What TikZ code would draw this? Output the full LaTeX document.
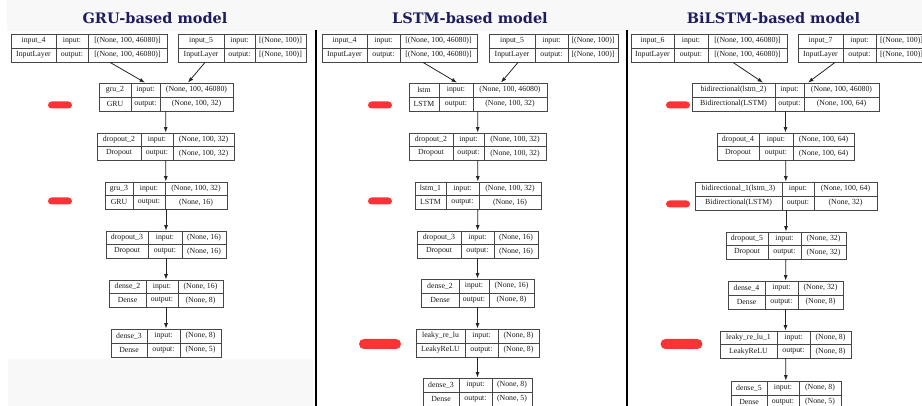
\documentclass[tikz,border=0pt]{standalone}
\usepackage{fontspec}
\setmainfont{Liberation Serif}
\newfontfamily\titlefont{DejaVu Serif}
\usetikzlibrary{arrows.meta}
\definecolor{titleblue}{RGB}{28,28,96}
\definecolor{markred}{RGB}{250,52,52}
\definecolor{stripgray}{RGB}{248,248,248}
\definecolor{boxline}{RGB}{70,70,70}
\def\getx#1,#2,#3,#4\relax{\def\xA{#1}\def\xB{#2}\def\xC{#3}\def\xD{#4}}
\def\gety#1,#2\relax{\def\yA{#1}\def\yB{#2}}
% \layer{name}{x1,xa,xb,x2}{y1,y2}{top-left}{bottom-left}{top-right}{bottom-right}
\newcommand\layer[7]{%
  \getx#2\relax\gety#3\relax
  \pgfmathsetmacro\lw{\xD-\xA}\pgfmathsetmacro\lh{\yB-\yA}%
  \node[layerbox, minimum width=\lw pt, minimum height=\lh pt] (#1) at ({(\xA+\xD)/2},{(\yA+\yB)/2}) {};
  \draw[cellline] (\xB,\yA) -- (\xB,\yB) (\xC,\yA) -- (\xC,\yB) (\xA,{(\yA+\yB)/2}) -- (\xD,{(\yA+\yB)/2});
  \node[celltext] (#1-tl) at ({(\xA+\xB)/2},{(3*\yA+\yB)/4}) {#4};
  \node[celltext] (#1-bl) at ({(\xA+\xB)/2},{(\yA+3*\yB)/4}) {#5};
  \node[celltext] (#1-tm) at ({(\xB+\xC)/2},{(3*\yA+\yB)/4}) {input:};
  \node[celltext] (#1-bm) at ({(\xB+\xC)/2},{(\yA+3*\yB)/4}) {output:};
  \node[celltext] (#1-tr) at ({(\xC+\xD)/2},{(3*\yA+\yB)/4}) {#6};
  \node[celltext] (#1-br) at ({(\xC+\xD)/2},{(\yA+3*\yB)/4}) {#7};
}
\begin{document}
\begin{tikzpicture}[x=1pt,y=-1pt,
  layerbox/.style={draw=boxline, line width=0.8pt, inner sep=0pt, fill=white},
  cellline/.style={draw=boxline, line width=0.8pt},
  celltext/.style={inner sep=0pt, font=\fontsize{7.8}{9}\selectfont, text=black!90},
  arr/.style={draw=black!85, line width=0.8pt, -{Latex[length=5.5pt,width=4pt]}},
  marker/.style={fill=markred, draw=none, rounded corners=3.5pt, inner sep=0pt},
  bigmarker/.style={fill=markred, draw=none, rounded corners=5pt, inner sep=0pt},
  title/.style={anchor=base, text=titleblue, font=\titlefont\bfseries\fontsize{14.5}{16}\selectfont},
  sep/.style={draw=black, line width=2pt}]
\useasboundingbox (0,0) rectangle (922,406);
\clip (0,0) rectangle (922,406);
\fill[white] (0,0) rectangle (922,406);
% background strips
\fill[stripgray] (7,0) rectangle (922,31);
\fill[stripgray] (8,359) rectangle (313,406);
% separators
\draw[sep] (315.5,30) -- (315.5,406);
\draw[sep] (627,30) -- (627,406);
% titles
\node[title] (t1) at (155,24) {GRU-based model};
\node[title] (t2) at (470,24) {LSTM-based model};
\node[title] (t3) at (773.5,24) {BiLSTM-based model};

% ---------------- GRU ----------------
\layer{in4}{11,56,88,167}{34,62}{input\_4}{InputLayer}{[(None, 100, 46080)]}{[(None, 100, 46080)]}
\layer{in5}{178,224,255,306}{34,62}{input\_5}{InputLayer}{[(None, 100)]}{[(None, 100)]}
\layer{gru2}{99,131,160,233}{83,111}{gru\_2}{GRU}{(None, 100, 46080)}{(None, 100, 32)}
\layer{drop2}{97,141,173,234}{133,160}{dropout\_2}{Dropout}{(None, 100, 32)}{(None, 100, 32)}
\layer{gru3}{105,133,165,227}{182,209}{gru\_3}{GRU}{(None, 100, 32)}{(None, 16)}
\layer{drop3}{106,148,182,226}{231,258}{dropout\_3}{Dropout}{(None, 16)}{(None, 16)}
\layer{dense2}{109,146,178,223}{280,307}{dense\_2}{Dense}{(None, 16)}{(None, 8)}
\layer{dense3}{111,147,180,221}{329,357}{dense\_3}{Dense}{(None, 8)}{(None, 5)}
\draw[arr] ([xshift=21pt]in4.south) -- ([xshift=-21pt]gru2.north);
\draw[arr] ([xshift=-37pt]in5.south) -- ([xshift=22pt]gru2.north);
\draw[arr] (gru2) -- (drop2);
\draw[arr] (drop2) -- (gru3);
\draw[arr] (gru3) -- (drop3);
\draw[arr] (drop3) -- (dense2);
\draw[arr] (dense2) -- (dense3);
\node[marker, minimum width=24pt, minimum height=7pt] (m1) at (60,105) {};
\node[marker, minimum width=24pt, minimum height=7pt] (m2) at (60,201) {};

% ---------------- LSTM ----------------
\layer{lin4}{322,367,400,477}{34,62}{input\_4}{InputLayer}{[(None, 100, 46080)]}{[(None, 100, 46080)]}
\layer{lin5}{489,535,568,618}{34,62}{input\_5}{InputLayer}{[(None, 100)]}{[(None, 100)]}
\layer{lstm}{409,439,473,547}{83,111}{lstm}{LSTM}{(None, 100, 46080)}{(None, 100, 32)}
\layer{ldrop2}{409,453,484,546}{133,160}{dropout\_2}{Dropout}{(None, 100, 32)}{(None, 100, 32)}
\layer{lstm1}{415,446,479,541}{182,209}{lstm\_1}{LSTM}{(None, 100, 32)}{(None, 16)}
\layer{ldrop3}{417,461,494,538}{231,258}{dropout\_3}{Dropout}{(None, 16)}{(None, 16)}
\layer{ldense2}{421,459,489,534}{279,307}{dense\_2}{Dense}{(None, 16)}{(None, 8)}
\layer{leaky}{416,465,498,539}{329,357}{leaky\_re\_lu}{LeakyReLU}{(None, 8)}{(None, 8)}
\layer{ldense3}{423,459,492,532}{378,406}{dense\_3}{Dense}{(None, 8)}{(None, 5)}
\draw[arr] ([xshift=23.5pt]lin4.south) -- ([xshift=-21pt]lstm.north);
\draw[arr] ([xshift=-35.5pt]lin5.south) -- ([xshift=23pt]lstm.north);
\draw[arr] (lstm) -- (ldrop2);
\draw[arr] (ldrop2) -- (lstm1);
\draw[arr] (lstm1) -- (ldrop3);
\draw[arr] (ldrop3) -- (ldense2);
\draw[arr] (ldense2) -- (leaky);
\draw[arr] (leaky) -- (ldense3);
\node[marker, minimum width=24pt, minimum height=7pt] (m3) at (380,105) {};
\node[marker, minimum width=24pt, minimum height=7pt] (m4) at (380,201) {};
\node[bigmarker, minimum width=42pt, minimum height=10pt] (m5) at (380,344) {};

% ---------------- BiLSTM ----------------
\layer{bin6}{631,674,708,787}{34,62}{input\_6}{InputLayer}{[(None, 100, 46080)]}{[(None, 100, 46080)]}
\layer{bin7}{798,843,876,927}{34,62}{input\_7}{InputLayer}{[(None, 100)]}{[(None, 100)]}
\layer{bi2}{692,775,804,879}{83,111}{bidirectional(lstm\_2)}{Bidirectional(LSTM)}{(None, 100, 46080)}{(None, 100, 64)}
\layer{bdrop4}{717,759,793,854}{133,160}{dropout\_4}{Dropout}{(None, 100, 64)}{(None, 100, 64)}
\layer{bi3}{695,782,814,877}{182,210}{bidirectional\_1(lstm\_3)}{Bidirectional(LSTM)}{(None, 100, 64)}{(None, 32)}
\layer{bdrop5}{726,768,801,846}{232,259}{dropout\_5}{Dropout}{(None, 32)}{(None, 32)}
\layer{bdense4}{728,765,798,843}{281,309}{dense\_4}{Dense}{(None, 32)}{(None, 8)}
\layer{bleaky}{720,777,810,851}{331,358}{leaky\_re\_lu\_1}{LeakyReLU}{(None, 8)}{(None, 8)}
\layer{bdense5}{731,767,799,841}{381,409}{dense\_5}{Dense}{(None, 8)}{(None, 5)}
\draw[arr] ([xshift=24pt]bin6.south) -- ([xshift=-22.5pt]bi2.north);
\draw[arr] ([xshift=-27.5pt]bin7.south) -- ([xshift=22.5pt]bi2.north);
\draw[arr] (bi2) -- (bdrop4);
\draw[arr] (bdrop4) -- (bi3);
\draw[arr] (bi3) -- (bdrop5);
\draw[arr] (bdrop5) -- (bdense4);
\draw[arr] (bdense4) -- (bleaky);
\draw[arr] (bleaky) -- (bdense5);
\node[marker, minimum width=24pt, minimum height=7pt] (m6) at (678,105) {};
\node[marker, minimum width=24pt, minimum height=7pt] (m7) at (678,204) {};
\node[bigmarker, minimum width=42pt, minimum height=10pt] (m8) at (681.5,344) {};
\end{tikzpicture}
\end{document}
